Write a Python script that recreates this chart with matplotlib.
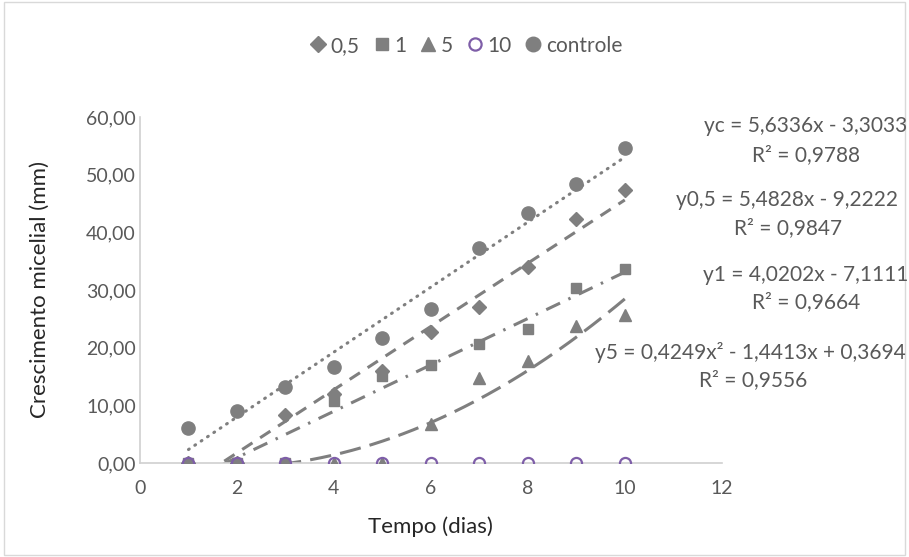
import numpy as np
import matplotlib
matplotlib.use("Agg")
import matplotlib.pyplot as plt
from matplotlib.patches import Rectangle

plt.rcParams['font.family'] = ['Lato', 'DejaVu Sans']

# ---- data ----
dias = [1, 2, 3, 4, 5, 6, 7, 8, 9, 10]
s_05 = [0, 0, 8.3, 12.0, 16.0, 22.7, 27.0, 34.0, 42.3, 47.3]
s_1 = [0, 0, 0, 10.7, 15.0, 17.0, 20.7, 23.3, 30.3, 33.7]
s_5 = [0, 0, 0, 0, 0, 6.7, 14.7, 17.6, 23.7, 25.7]
s_10 = [0, 0, 0, 0, 0, 0, 0, 0, 0, 0]
s_ctrl = [6.0, 9.0, 13.2, 16.6, 21.6, 26.7, 37.3, 43.3, 48.3, 54.7]

# trendline coefficients (highest power first)
coef_ctrl = [5.6336, -3.3033]
coef_05 = [5.4828, -9.2222]
coef_1 = [4.0202, -7.1111]
coef_5 = [0.4249, -1.4413, 0.3694]

eq_lines = ["yc = 5,6336x - 3,3033",
            "y0,5 = 5,4828x - 9,2222",
            "y1 = 4,0202x - 7,1111",
            "y5 = 0,4249x² - 1,4413x + 0,3694"]
r2_lines = ["R² = 0,9788", "R² = 0,9847", "R² = 0,9664", "R² = 0,9556"]

x_ticks = [0, 2, 4, 6, 8, 10, 12]
y_ticks = [0, 10, 20, 30, 40, 50, 60]
legend_labels = ["0,5", "1", "5", "10", "controle"]

GRAY = "#7F7F7F"
PURPLE = "#7E5EA8"
TXT = "#595959"

fig = plt.figure(figsize=(9.09, 5.57), dpi=100)
ax = fig.add_axes([0.154, 0.1688, 0.640, 0.6212])

ms = 9
h05, = ax.plot(dias, s_05, ls='none', marker='D', ms=ms - 1.5, color=GRAY, zorder=3)
h1, = ax.plot(dias, s_1, ls='none', marker='s', ms=ms - 1.5, color=GRAY, zorder=3)
h5, = ax.plot(dias, s_5, ls='none', marker='^', ms=ms, color=GRAY, zorder=3)
h10, = ax.plot(dias, s_10, ls='none', marker='o', ms=ms - 1, mfc='none', mec=PURPLE, mew=1.6, zorder=4)
hc, = ax.plot(dias, s_ctrl, ls='none', marker='o', ms=ms + 0.5, color=GRAY, zorder=3)

xx = np.linspace(min(dias), max(dias), 300)
ax.plot(xx, np.polyval(coef_ctrl, xx), color=GRAY, lw=2.2, ls=(0, (0.3, 2.2)), dash_capstyle='round', zorder=2)
ax.plot(xx, np.polyval(coef_05, xx), color=GRAY, lw=2.2, ls=(0, (4, 3)), zorder=2)
ax.plot(xx, np.polyval(coef_1, xx), color=GRAY, lw=2.2, ls=(0, (5, 3, 0.8, 3)), zorder=2)
ax.plot(xx, np.polyval(coef_5, xx), color=GRAY, lw=2.2, ls=(0, (7, 3)), zorder=2)

ax.set_xlim(0, 12)
ax.set_ylim(0, 60)
ax.set_xticks(x_ticks)
ax.set_yticks(y_ticks)
ax.set_xticklabels([str(v) for v in x_ticks])
ax.set_yticklabels([f"{v:.2f}".replace('.', ',') for v in y_ticks])
ax.tick_params(length=0, labelsize=14, colors=TXT)
ax.tick_params(axis='y', pad=3)
ax.tick_params(axis='x', pad=12)
for s in ['top', 'right']:
    ax.spines[s].set_visible(False)
for s in ['left', 'bottom']:
    ax.spines[s].set_color("#D0D0D0")
    ax.spines[s].set_linewidth(1.2)

ax.set_xlabel("Tempo (dias)", fontsize=16, color="#262626", labelpad=14)
ax.set_ylabel("Crescimento micelial (mm)", fontsize=16, color="#262626", labelpad=26)

leg = fig.legend([h05, h1, h5, h10, hc], legend_labels, loc='center', bbox_to_anchor=(0.512, 0.918),
                 ncol=5, frameon=False, fontsize=15, handlelength=0.9, handletextpad=0.15,
                 columnspacing=0.6, labelcolor=TXT, markerscale=1.1)

# equation texts: (center x of eq line, y of eq line, center x of R² line, y of R² line)
eq_pos = [(0.886, 0.774, 0.887, 0.722),
          (0.866, 0.641, 0.867, 0.591),
          (0.886, 0.506, 0.887, 0.458),
          (0.826, 0.368, 0.828, 0.318)]
for (ex, ey, rx, ry), e, r in zip(eq_pos, eq_lines, r2_lines):
    fig.text(ex, ey, e, ha='center', va='center', fontsize=15, color=TXT)
    fig.text(rx, ry, r, ha='center', va='center', fontsize=15, color=TXT)

fig.patches.append(Rectangle((0.004, 0.004), 0.992, 0.992, transform=fig.transFigure,
                             fill=False, edgecolor="#D9D9D9", lw=1))

fig.savefig("out.png", dpi=100)
